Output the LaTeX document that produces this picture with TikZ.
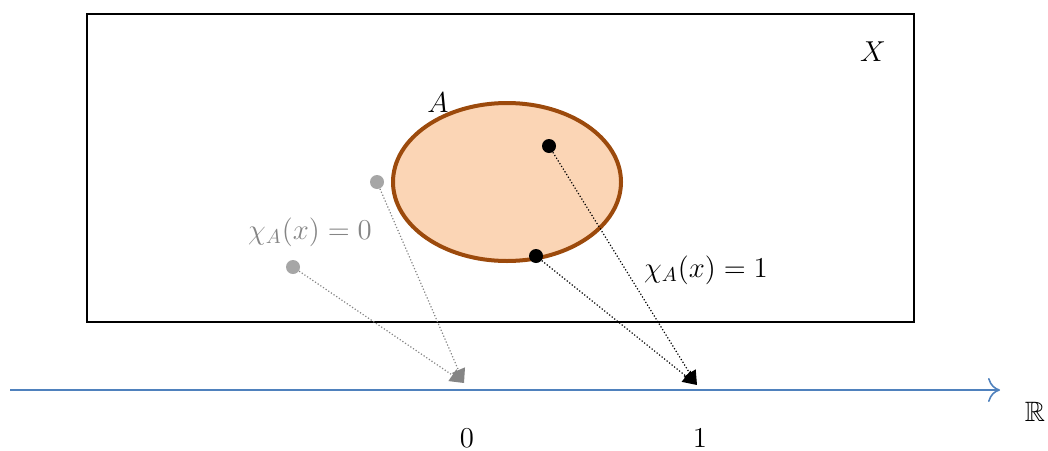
\documentclass[tikz,border=0pt]{standalone}
\usepackage{amssymb}
\usetikzlibrary{arrows.meta,shapes.geometric}
\definecolor{axisblue}{HTML}{4F81BD}
\definecolor{setfill}{HTML}{FBD5B5}
\definecolor{setedge}{HTML}{9C4A0C}
\definecolor{ptgray}{HTML}{A6A6A6}
\begin{document}
\begin{tikzpicture}[x=0.5pt,y=-0.5pt,
  lbl/.style={inner sep=0pt,font=\fontsize{14}{16}\selectfont},
  ptblack/.style={circle,fill=black,inner sep=0pt,minimum size=7pt},
  ptgrey/.style={circle,fill=ptgray,inner sep=0pt,minimum size=7pt},
  maparrow/.style={densely dotted,line width=0.6pt,-{Triangle[length=7pt,width=7pt]}},
  tgt/.style={inner sep=0pt,minimum size=0pt}]
\useasboundingbox (0,0) rectangle (1048,450);
\node[draw,line width=0.8pt,minimum width=413.5pt,minimum height=154pt,inner sep=0pt] (Xbox) at (500.5,168) {};
\node[lbl] (Xlab) at (873,52) {$X$};
\node[ellipse,draw=setedge,fill=setfill,line width=2pt,minimum width=114pt,minimum height=79pt,inner sep=0pt] (Aset) at (507,182) {};
\node[lbl] (Alab) at (438,103) {$A$};
% axis
\coordinate (axL) at (10,390);
\coordinate (axR) at (1000,390);
\draw[axisblue,line width=0.8pt,-{To[length=6pt,width=12pt]}] (axL) -- (axR);
\node[lbl] (Rlab) at (1035,412) {$\mathbb{R}$};
\node[lbl] (zero) at (467,438) {$0$};
\node[lbl] (one) at (700,438) {$1$};
% targets
\coordinate (t0) at (464,383);
\coordinate (t1) at (697,385);
% points
\node[ptblack] (b1) at (549,146) {};
\node[ptblack] (b2) at (536,256) {};
\node[ptgrey] (g1) at (377,182) {};
\node[ptgrey] (g2) at (293,267) {};
\draw[maparrow,black] (b1) -- (t1);
\draw[maparrow,black] (b2) -- (t1);
\draw[maparrow,ptgray!80!black] (g1) -- (t0);
\draw[maparrow,ptgray!80!black] (g2) -- (t0);
\node[lbl,text=ptgray!80!black] (chi0) at (310,232) {$\chi_A(x)=0$};
\node[lbl] (chi1) at (706,270) {$\chi_A(x)=1$};
\end{tikzpicture}
\end{document}
